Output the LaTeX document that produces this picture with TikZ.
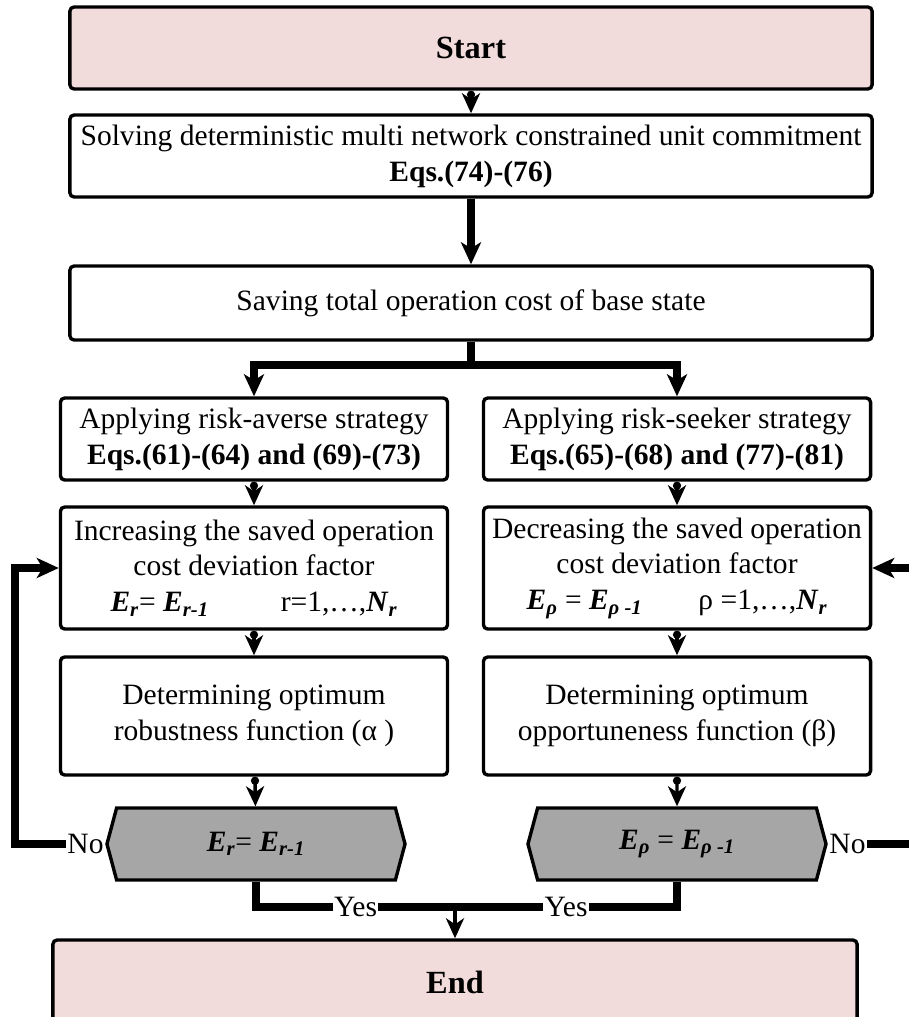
\documentclass[tikz,border=0pt]{standalone}
\usepackage{fontspec}
\setmainfont{Liberation Serif}
\usetikzlibrary{arrows.meta,shapes.symbols}
\definecolor{termpink}{HTML}{F2DCDB}
\definecolor{decgray}{HTML}{A6A6A6}
\newcommand{\bi}[1]{\textbf{\textit{#1}}}
\newcommand{\flowfont}{\fontsize{21}{25.5}\selectfont}
\begin{document}
\begin{tikzpicture}[x=0.025cm,y=-0.025cm,
  box/.style={draw,line width=2.4pt,rounded corners=3pt,align=center,inner sep=2pt,font=\flowfont},
  term/.style={box,fill=termpink,font=\fontsize{23}{27}\selectfont\bfseries},
  decide/.style={draw,line width=2.4pt,fill=decgray,signal,signal to=west and east,signal pointer angle=150,minimum width=7.45cm,minimum height=1.8cm,inner sep=2pt,font=\flowfont},
  arrthin/.style={line width=2.4pt,{Circle[length=0.2cm]}-{Stealth[length=0.5cm,width=0.45cm,inset=0.15cm]}},
  arrthick/.style={line width=5.7pt,-{Stealth[length=0.55cm,width=0.5cm,inset=0.15cm]}},
  lbl/.style={fill=white,inner sep=1pt,font=\flowfont}]
\useasboundingbox (0,0) rectangle (908,1017);
\node[term,minimum width=20.05cm,minimum height=2.05cm] (start) at (471,48) {Start};
\node[box,minimum width=20.05cm,minimum height=2.05cm] (solve) at (471,156) {Solving deterministic multi network constrained unit commitment\\ \textbf{Eqs.(74)-(76)}};
\node[box,minimum width=20.05cm,minimum height=1.85cm] (save) at (471,303) {Saving total operation cost of base state};
\node[box,minimum width=9.675cm,minimum height=2.05cm] (averse) at (254,439) {Applying risk-averse strategy\\ \textbf{Eqs.(61)-(64) and (69)-(73)}};
\node[box,minimum width=9.675cm,minimum height=2.05cm] (seeker) at (677,439) {Applying risk-seeker strategy\\ \textbf{Eqs.(65)-(68) and (77)-(81)}};
\node[box,minimum width=9.675cm,minimum height=3.05cm] (incr) at (254,568) {Increasing the saved operation\\ cost deviation factor\\ \bi{E}\textsubscript{\bi{r}}= \bi{E}\textsubscript{\bi{r-1}}\hspace{1.8cm}r=1,…,\bi{N}\textsubscript{\bi{r}}};
\node[box,minimum width=9.675cm,minimum height=3.05cm] (decr) at (677,568) {Decreasing the saved operation\\ cost deviation factor\\ \bi{E}\textsubscript{\bi{ρ}} = \bi{E}\textsubscript{\bi{ρ -1}}\hspace{1.4cm}ρ =1,…,\bi{N}\textsubscript{\bi{r}}};
\node[box,minimum width=9.675cm,minimum height=2.95cm] (robust) at (254,716) {Determining optimum\\ robustness function (α )};
\node[box,minimum width=9.675cm,minimum height=2.95cm] (oppor) at (677,716) {Determining optimum\\ opportuneness function (β)};
\node[decide] (checkA) at (256,844) {\bi{E}\textsubscript{\bi{r}}= \bi{E}\textsubscript{\bi{r-1}}};
\node[decide] (checkB) at (677,844) {\bi{E}\textsubscript{\bi{ρ}} = \bi{E}\textsubscript{\bi{ρ -1}}};
\node[term,minimum width=20.1cm,minimum height=2.1cm] (finish) at (455,982) {End};
\node[lbl,anchor=east] (noA) at (checkA.west) {No};
\node[lbl,anchor=west] (noB) at (checkB.east) {No};
\coordinate (split) at (471,365);
\coordinate (join) at (455,907);
\coordinate (loopA) at (15,568);
\coordinate (loopB) at (930,568);
\draw[arrthin] (start) -- (solve);
\draw[arrthick] (solve) -- (save);
\draw[arrthick] (save.south) -- (split) -| (averse.north);
\draw[arrthick] (split) -| (seeker.north);
\draw[arrthin] (averse) -- (incr);
\draw[arrthin] (seeker) -- (decr);
\draw[arrthin] (incr) -- (robust);
\draw[arrthin] (decr) -- (oppor);
\draw[arrthin] (robust) -- (checkA);
\draw[arrthin] (oppor) -- (checkB);
\draw[line width=5.7pt] (checkA.south) |- node[lbl,pos=0.75] {Yes} (join);
\draw[line width=5.7pt] (checkB.south) |- node[lbl,pos=0.75] {Yes} (join);
\draw[arrthin,-{Stealth[length=0.5cm,width=0.45cm,inset=0.15cm]}] (join) -- (finish);
\draw[arrthick] (noA.west) -| (loopA) -- (incr.west);
\draw[arrthick] (noB.east) -| (loopB) -- (decr.east);
\end{tikzpicture}
\end{document}
